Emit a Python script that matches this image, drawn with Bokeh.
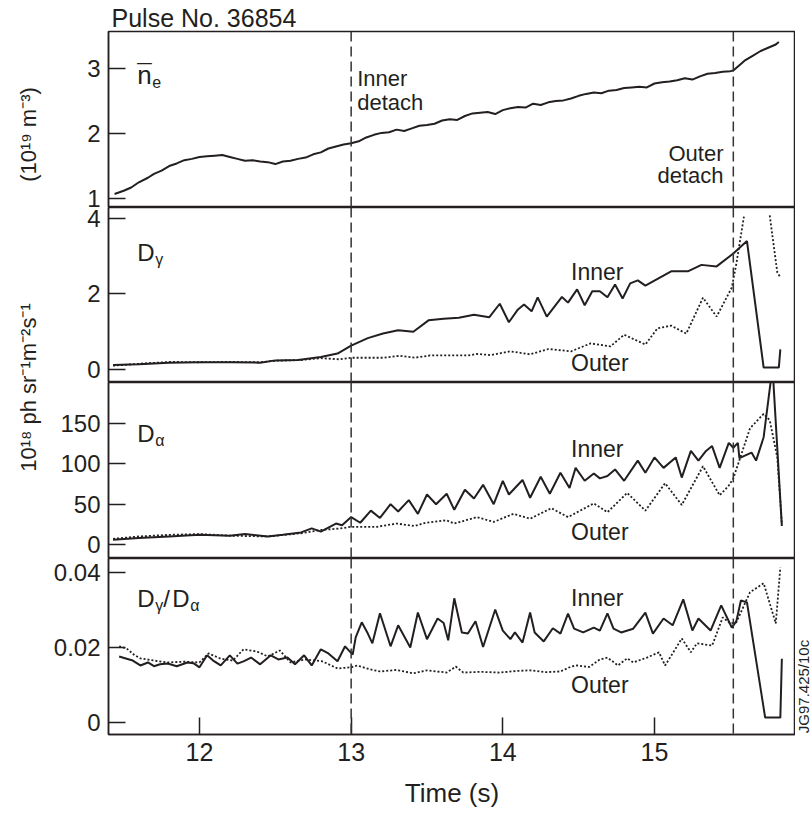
import math
import numpy as np
from bokeh.plotting import figure
from bokeh.models import Range1d, FixedTicker, Span, Label, Spacer
from bokeh.layouts import row, column
from bokeh.embed import file_html
from bokeh.resources import INLINE

FONT = "Liberation Sans"
INK = "#231f20"
NAN = float("nan")

# ---------------- data ----------------
title_text = "Pulse No. 36854"
x_ticks = [12, 13, 14, 15]
inner_detach_t = 13.0
outer_detach_t = 15.52

# line-averaged density (1e19 m^-3)
ne_t = [11.44, 11.50, 11.55, 11.60, 11.66, 11.70, 11.75, 11.80, 11.85, 11.90, 11.95, 12.00,
        12.05, 12.10, 12.15, 12.20, 12.25, 12.30, 12.35, 12.40, 12.45, 12.50, 12.55, 12.60,
        12.65, 12.70, 12.75, 12.80, 12.85, 12.90, 12.95, 13.00, 13.05, 13.10, 13.15, 13.20,
        13.25, 13.30, 13.35, 13.40, 13.45, 13.50, 13.55, 13.60, 13.65, 13.70, 13.75, 13.80,
        13.85, 13.90, 13.95, 14.00, 14.05, 14.10, 14.15, 14.20, 14.25, 14.30, 14.35, 14.40,
        14.45, 14.50, 14.55, 14.60, 14.65, 14.70, 14.75, 14.80, 14.85, 14.90, 14.95, 15.00,
        15.05, 15.10, 15.15, 15.20, 15.25, 15.30, 15.35, 15.40, 15.45, 15.50, 15.52, 15.56,
        15.60, 15.65, 15.70, 15.75, 15.80, 15.82]
ne_v = [1.07, 1.12, 1.17, 1.25, 1.32, 1.38, 1.43, 1.50, 1.54, 1.59, 1.61, 1.64,
        1.65, 1.66, 1.67, 1.64, 1.61, 1.58, 1.59, 1.57, 1.56, 1.53, 1.57, 1.58,
        1.61, 1.63, 1.68, 1.71, 1.77, 1.80, 1.83, 1.85, 1.88, 1.94, 1.98, 2.01,
        2.02, 2.06, 2.04, 2.08, 2.12, 2.13, 2.15, 2.20, 2.22, 2.21, 2.27, 2.31,
        2.32, 2.33, 2.30, 2.36, 2.39, 2.41, 2.40, 2.46, 2.44, 2.48, 2.50, 2.51,
        2.54, 2.58, 2.61, 2.63, 2.62, 2.66, 2.67, 2.70, 2.71, 2.72, 2.71, 2.77,
        2.79, 2.80, 2.82, 2.85, 2.83, 2.88, 2.92, 2.93, 2.95, 2.96, 2.97, 3.05,
        3.13, 3.20, 3.27, 3.32, 3.37, 3.41]

# D-gamma (1e18 ph sr^-1 m^-2 s^-1)
dg_in_t = [11.43, 11.60, 11.80, 12.00, 12.20, 12.40, 12.50, 12.65, 12.80, 12.91, 13.00, 13.11,
           13.21, 13.31, 13.41, 13.51, 13.61, 13.71, 13.81, 13.91, 13.98, 14.04, 14.10, 14.14,
           14.19, 14.23, 14.29, 14.39, 14.43, 14.49, 14.54, 14.59, 14.64, 14.69, 14.74, 14.79,
           14.84, 14.89, 14.94, 15.11, 15.22, 15.31, 15.41, 15.52, 15.61, 15.72, 15.82, 15.83]
dg_in_v = [0.12, 0.14, 0.18, 0.19, 0.19, 0.18, 0.24, 0.25, 0.33, 0.42, 0.63, 0.83,
           0.95, 1.04, 1.00, 1.30, 1.34, 1.37, 1.45, 1.38, 1.74, 1.25, 1.59, 1.72,
           1.54, 1.91, 1.40, 1.92, 1.77, 2.12, 1.70, 2.07, 2.07, 1.91, 2.25, 1.88,
           2.28, 2.36, 2.22, 2.60, 2.60, 2.77, 2.73, 3.07, 3.40, 0.05, 0.05, 0.53]
dg_out_t = [11.43, 11.60, 11.80, 12.00, 12.20, 12.40, 12.50, 12.67, 12.80, 12.92, 13.00, 13.21,
            13.32, 13.42, 13.52, 13.61, 13.77, 13.83, 13.92, 14.05, 14.18, 14.30, 14.33, 14.45,
            14.58, 14.71, 14.80, 14.94, 15.02, 15.11, 15.21, 15.32, 15.41, 15.51, 15.54, 15.59,
            15.67, 15.76, 15.81, 15.83]
dg_out_v = [0.10, 0.15, 0.20, 0.19, 0.20, 0.19, 0.23, 0.25, 0.30, 0.27, 0.31, 0.31,
            0.36, 0.31, 0.37, 0.37, 0.37, 0.41, 0.38, 0.48, 0.40, 0.54, 0.53, 0.48,
            0.69, 0.61, 0.92, 0.66, 1.09, 1.16, 0.95, 1.90, 1.40, 2.17, 2.80, 4.05,
            NAN, 4.08, 2.57, 2.44]

# D-alpha (1e18 ph sr^-1 m^-2 s^-1)
da_in_t = [11.43, 11.60, 11.80, 12.00, 12.20, 12.30, 12.45, 12.55, 12.67, 12.74, 12.80, 12.90,
           12.94, 13.00, 13.06, 13.13, 13.19, 13.26, 13.31, 13.38, 13.44, 13.50, 13.56, 13.63,
           13.68, 13.75, 13.81, 13.87, 13.94, 14.00, 14.04, 14.13, 14.18, 14.25, 14.31, 14.38,
           14.44, 14.48, 14.54, 14.60, 14.64, 14.69, 14.74, 14.80, 14.89, 14.94, 15.00, 15.06,
           15.14, 15.18, 15.24, 15.29, 15.34, 15.38, 15.43, 15.49, 15.52, 15.55, 15.56, 15.64,
           15.67, 15.72, 15.775, 15.78, 15.84]
da_in_v = [6, 8, 10, 12, 11, 13, 10, 12, 15, 20, 16, 26,
           24, 34, 27, 42, 33, 50, 41, 55, 38, 62, 50, 63,
           43, 68, 57, 74, 50, 79, 62, 80, 58, 84, 63, 89,
           70, 95, 79, 88, 82, 85, 93, 79, 104, 89, 108, 95,
           108, 83, 116, 104, 116, 122, 95, 126, 120, 126, 107, 114,
           104, 133, 215, 215, 23]
da_out_t = [11.43, 11.60, 11.80, 12.00, 12.20, 12.45, 12.67, 12.80, 12.93, 13.00, 13.17, 13.30,
            13.42, 13.49, 13.63, 13.68, 13.83, 13.94, 14.07, 14.18, 14.32, 14.43, 14.60, 14.69,
            14.82, 14.94, 15.07, 15.18, 15.32, 15.43, 15.49, 15.52, 15.63, 15.72, 15.76, 15.81,
            15.84]
da_out_v = [7, 10, 12, 13, 11, 10, 14, 18, 20, 22, 22, 26,
            23, 27, 30, 26, 34, 28, 38, 32, 45, 34, 51, 40,
            64, 42, 76, 49, 97, 61, 73, 82, 144, 162, 154, 108,
            26]

# D-gamma / D-alpha ratio
r_in_t = [11.47, 11.52, 11.56, 11.61, 11.66, 11.70, 11.74, 11.79, 11.85, 11.92, 11.96, 12.00,
          12.05, 12.09, 12.14, 12.20, 12.25, 12.29, 12.34, 12.40, 12.47, 12.52, 12.58, 12.63,
          12.69, 12.74, 12.80, 12.85, 12.91, 12.96, 13.01, 13.03, 13.07, 13.11, 13.14, 13.19,
          13.26, 13.31, 13.39, 13.44, 13.50, 13.57, 13.61, 13.64, 13.68, 13.73, 13.77, 13.82,
          13.87, 13.95, 14.00, 14.05, 14.08, 14.13, 14.18, 14.21, 14.27, 14.33, 14.38, 14.43,
          14.47, 14.53, 14.60, 14.64, 14.69, 14.73, 14.78, 14.86, 14.94, 14.99, 15.06, 15.12,
          15.19, 15.25, 15.29, 15.37, 15.44, 15.51, 15.54, 15.57, 15.61, 15.73, 15.83, 15.84]
r_in_v = [0.0176, 0.0170, 0.0165, 0.0152, 0.0160, 0.0150, 0.0155, 0.0157, 0.0150, 0.0160, 0.0158, 0.0147,
          0.0179, 0.0165, 0.0152, 0.0179, 0.0157, 0.0163, 0.0173, 0.0155, 0.0179, 0.0168, 0.0173, 0.0155,
          0.0179, 0.0152, 0.0195, 0.0184, 0.0163, 0.0203, 0.0181, 0.0227, 0.0267, 0.0237, 0.0211, 0.0291,
          0.0203, 0.0259, 0.0200, 0.0293, 0.0222, 0.0277, 0.0265, 0.0219, 0.0331, 0.0240, 0.0237, 0.0270,
          0.0201, 0.0301, 0.0245, 0.0222, 0.0240, 0.0213, 0.0293, 0.0240, 0.0216, 0.0251, 0.0237, 0.0290,
          0.0250, 0.0240, 0.0253, 0.0245, 0.0291, 0.0250, 0.0240, 0.0250, 0.0293, 0.0237, 0.0277, 0.0259,
          0.0328, 0.0245, 0.0277, 0.0245, 0.0312, 0.0253, 0.0270, 0.0325, 0.0320, 0.0013, 0.0013, 0.0170]
r_out_t = [11.47, 11.52, 11.57, 11.61, 11.70, 11.79, 11.90, 12.00, 12.06, 12.14, 12.22, 12.29,
           12.38, 12.45, 12.53, 12.60, 12.70, 12.81, 12.91, 13.00, 13.04, 13.12, 13.19, 13.30,
           13.41, 13.50, 13.63, 13.69, 13.74, 13.85, 13.98, 14.08, 14.18, 14.28, 14.38, 14.45,
           14.49, 14.57, 14.64, 14.69, 14.76, 14.82, 14.86, 14.95, 15.03, 15.07, 15.12, 15.18,
           15.24, 15.28, 15.38, 15.45, 15.50, 15.54, 15.63, 15.72, 15.80, 15.83]
r_out_v = [0.0203, 0.0197, 0.0180, 0.0171, 0.0165, 0.0160, 0.0162, 0.0160, 0.0184, 0.0170, 0.0165, 0.0195,
           0.0189, 0.0176, 0.0192, 0.0160, 0.0168, 0.0163, 0.0144, 0.0147, 0.0152, 0.0142, 0.0136, 0.0140,
           0.0131, 0.0139, 0.0133, 0.0149, 0.0133, 0.0135, 0.0133, 0.0137, 0.0139, 0.0134, 0.0136, 0.0149,
           0.0152, 0.0148, 0.0168, 0.0173, 0.0152, 0.0171, 0.0160, 0.0173, 0.0187, 0.0152, 0.0184, 0.0224,
           0.0187, 0.0211, 0.0205, 0.0280, 0.0264, 0.0267, 0.0347, 0.0371, 0.0264, 0.0413]

# ---------------- figure ----------------
x_range = Range1d(11.40, 15.93)
FW = 687
LEFT_W = 44
RIGHT_W = 16
PANEL_BL = 108 - LEFT_W      # left border of each panel figure
TOP_B = 31                   # space above the first panel (title)


def panel(fh, y0, y1, ticks, top=0, bottom=0, xaxis=False, overrides=None, title=None):
    kw = dict(title_location="above") if title else dict(title_location=None)
    p = figure(frame_width=FW, frame_height=fh, x_range=x_range, y_range=Range1d(y0, y1),
               output_backend="svg", toolbar_location=None,
               x_axis_location="below" if xaxis else None,
               min_border_left=PANEL_BL, min_border_right=0,
               min_border_top=top, min_border_bottom=bottom, **kw)
    if title:
        p.title.text = title
        p.title.align = "left"
        p.title.offset = 3
        p.title.standoff = 0
        p.title.text_font = FONT
        p.title.text_font_size = "25px"
        p.title.text_font_style = "normal"
        p.title.text_color = INK
    p.grid.visible = False
    p.outline_line_color = INK
    p.outline_line_width = 1.5
    p.outline_line_alpha = 1.0
    p.background_fill_color = "white"
    p.border_fill_color = "white"
    axes = list(p.yaxis) + (list(p.xaxis) if xaxis else [])
    for ax in axes:
        ax.major_tick_in = 17
        ax.major_tick_out = 0
        ax.minor_tick_in = 0
        ax.minor_tick_out = 0
        ax.major_tick_line_color = INK
        ax.major_tick_line_width = 1.5
        ax.axis_line_color = INK
        ax.axis_line_width = 1.5
        ax.major_label_text_font = FONT
        ax.major_label_text_color = INK
        ax.major_label_standoff = 8
    p.yaxis[0].ticker = FixedTicker(ticks=ticks, minor_ticks=[])
    p.yaxis[0].major_label_text_font_size = "24px"
    if overrides:
        p.yaxis[0].major_label_overrides = overrides
    for loc in (inner_detach_t, outer_detach_t):
        p.add_layout(Span(location=loc, dimension="height", line_color="#333333",
                          line_dash="10 5", line_width=1.5))
    return p


def txt(p, x, y, text, size, align="left", xo=0, yo=0, baseline="alphabetic", angle=0.0):
    p.add_layout(Label(x=x, y=y, x_offset=xo, y_offset=yo, text=text, angle=angle,
                       text_font=FONT, text_font_size=size, text_color=INK,
                       text_align=align, text_baseline=baseline))


def blank_fig(w, h):
    f = figure(width=w, height=h, x_range=Range1d(0, w), y_range=Range1d(0, h),
               x_axis_type=None, y_axis_type=None, output_backend="svg",
               toolbar_location=None, title_location=None,
               min_border_left=0, min_border_right=0, min_border_top=0, min_border_bottom=0,
               outline_line_color=None)
    f.grid.visible = False
    return f


# Panel 1: density (carries the title above its frame)
p1 = panel(176, 0.862, 3.57, [1, 2, 3], top=TOP_B, title=title_text)
p1.line(ne_t, ne_v, line_color=INK, line_width=2)
txt(p1, 11.59, 2.90, "n", "26px")
txt(p1, 11.59, 2.90, "\u00af", "26px", yo=1)
txt(p1, 11.59, 2.90, "e", "16px", xo=15, yo=-7)
txt(p1, 13.04, 2.84, "Inner", "22px")
txt(p1, 13.04, 2.48, "detach", "22px")
txt(p1, 15.455, 1.70, "Outer", "22px", align="right")
txt(p1, 15.455, 1.35, "detach", "22px", align="right")

# Panel 2: D-gamma
p2 = panel(175, -0.346, 4.29, [0, 2, 4])
p2.line(dg_in_t, dg_in_v, line_color=INK, line_width=2)
p2.line(np.array(dg_out_t), np.array(dg_out_v), line_color=INK, line_width=1.8, line_dash="2 2")
txt(p2, 11.59, 3.10, "D", "24px")
txt(p2, 11.59, 3.10, "\u03b3", "16px", xo=18, yo=-7)
txt(p2, 14.45, 2.57, "Inner", "23px", baseline="middle")
txt(p2, 14.45, 0.16, "Outer", "23px", baseline="middle")

# Panel 3: D-alpha
p3 = panel(176, -17.3, 200.8, [0, 50, 100, 150])
p3.line(da_in_t, da_in_v, line_color=INK, line_width=2)
p3.line(da_out_t, da_out_v, line_color=INK, line_width=1.8, line_dash="2 2")
txt(p3, 11.59, 137.5, "D", "24px")
txt(p3, 11.59, 137.5, "\u03b1", "16px", xo=18, yo=-7)
txt(p3, 14.45, 119, "Inner", "23px", baseline="middle")
txt(p3, 14.45, 15, "Outer", "23px", baseline="middle")

# Panel 4: ratio
p4 = panel(176, -0.0032, 0.0437, [0, 0.02, 0.04], bottom=80, xaxis=True,
           overrides={0: "0", 0.02: "0.02", 0.04: "0.04"})
p4.line(r_in_t, r_in_v, line_color=INK, line_width=2)
p4.line(r_out_t, r_out_v, line_color=INK, line_width=1.8, line_dash="2 2")
xa = p4.xaxis[0]
xa.ticker = FixedTicker(ticks=x_ticks, minor_ticks=[])
xa.major_label_text_font_size = "25px"
xa.axis_label = "Time (s)"
xa.axis_label_text_font = FONT
xa.axis_label_text_font_size = "26px"
xa.axis_label_text_font_style = "normal"
xa.axis_label_text_color = INK
xa.axis_label_standoff = 14
txt(p4, 11.59, 0.0331, "D", "24px")
txt(p4, 11.59, 0.0331, "\u03b3", "16px", xo=18, yo=-7)
txt(p4, 11.59, 0.0331, "/", "24px", xo=26)
txt(p4, 11.59, 0.0331, "D", "24px", xo=35)
txt(p4, 11.59, 0.0331, "\u03b1", "16px", xo=53, yo=-7)
txt(p4, 14.45, 0.0333, "Inner", "23px", baseline="middle")
txt(p4, 14.45, 0.0101, "Outer", "23px", baseline="middle")

# Left column with the unit labels
lab1 = blank_fig(LEFT_W, 176)
txt(lab1, 28, 73, "(10\u00b9\u2079 m\u207b\u00b3)", "22px", align="center",
    baseline="middle", angle=math.pi / 2)
lab23 = blank_fig(LEFT_W, 351)
txt(lab23, 28, 171, "10\u00b9\u2078 ph sr\u207b\u00b9m\u207b\u00b2s\u207b\u00b9", "22px",
    align="center", baseline="middle", angle=math.pi / 2)

# Right column with the figure reference code
jg = blank_fig(RIGHT_W, 176)
txt(jg, 8, 48, "JG97.425/10c", "15px", align="center", baseline="middle", angle=math.pi / 2)

left = column(Spacer(width=LEFT_W, height=TOP_B), lab1, lab23, Spacer(width=LEFT_W, height=256))
mid = column(p1, p2, p3, p4)
right = column(Spacer(width=RIGHT_W, height=TOP_B + 176 + 175 + 176), jg,
               Spacer(width=RIGHT_W, height=80))
layout = row(left, mid, right)

open("out.html", "w").write(file_html(layout, INLINE))
